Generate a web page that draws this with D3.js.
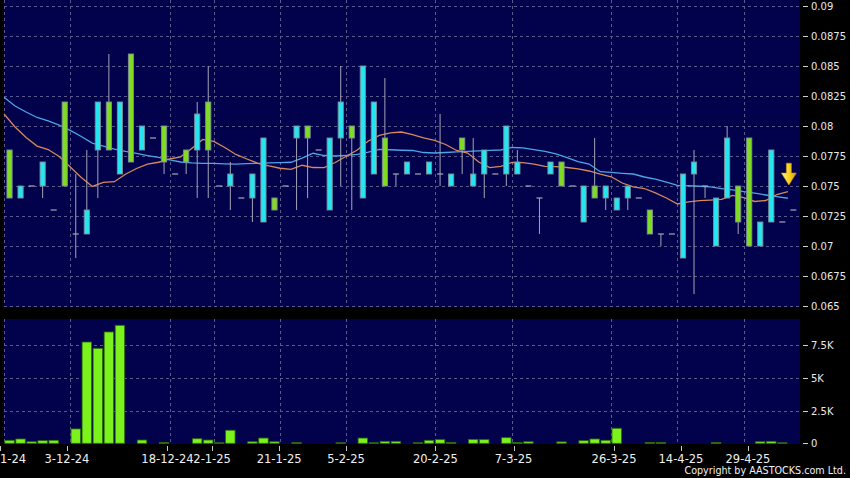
<!DOCTYPE html>
<html><head><meta charset="utf-8">
<script src="https://cdn.jsdelivr.net/npm/d3@7"></script>
<style>html,body{margin:0;padding:0;background:#000;} svg{display:block;}</style>
</head><body>
<svg id="c" width="850" height="478"></svg>
<script>
// ---- data ----
const opens  = [.074,.075,.075,.077,.073,.075,.071,.073,.082,.078,.082,.077,.080,.079,.077,.076,.077,.081,.078,.075,.076,.074,.076,.079,.073,.075,.080,.079,.078,.079,.082,.079,.085,.082,.075,.076,.077,.076,.077,.076,.076,.078,.076,.078,.076,.080,.077,.075,.074,.077,.075,.075,.075,.074,.075,.074,.075,.074,.071,.071,.071,.076,.077,.075,.074,.079,.072,.070,.072,.078,.072,.073];
const highs  = [.078,.075,.075,.077,.073,.082,.076,.078,.082,.086,.082,.086,.080,.079,.080,.076,.078,.082,.085,.075,.077,.074,.076,.079,.074,.075,.080,.080,.078,.079,.085,.080,.085,.082,.084,.076,.077,.076,.077,.081,.076,.079,.079,.078,.076,.080,.078,.075,.074,.077,.077,.075,.075,.079,.075,.074,.075,.074,.073,.071,.071,.076,.078,.075,.074,.080,.075,.079,.072,.078,.072,.073];
const lows   = [.074,.074,.075,.074,.073,.075,.069,.071,.074,.078,.076,.077,.078,.079,.076,.076,.076,.074,.074,.075,.073,.074,.072,.072,.073,.075,.073,.074,.078,.073,.075,.073,.074,.076,.075,.075,.076,.076,.076,.075,.075,.076,.075,.074,.076,.075,.076,.075,.071,.076,.075,.075,.072,.074,.073,.073,.073,.074,.071,.070,.071,.069,.066,.074,.070,.074,.071,.070,.070,.072,.072,.073];
const closes = [.078,.074,.075,.075,.073,.082,.071,.071,.078,.082,.076,.086,.078,.079,.080,.076,.078,.078,.082,.075,.075,.074,.074,.072,.074,.075,.079,.080,.078,.073,.079,.080,.074,.076,.079,.076,.076,.076,.076,.076,.075,.079,.075,.076,.076,.076,.076,.075,.074,.076,.077,.075,.072,.075,.074,.073,.074,.074,.073,.071,.071,.069,.076,.075,.070,.074,.075,.079,.070,.072,.072,.073];
const volumes = [230,330,120,200,230,0,1100,7750,7270,8520,9030,0,250,0,60,0,0,350,250,40,1000,0,120,400,120,0,50,0,0,0,40,0,400,40,150,150,0,40,230,280,60,0,300,280,0,430,60,120,0,0,110,0,200,330,230,1150,0,0,60,60,0,0,0,0,60,0,0,0,120,150,40,0];
const maShort = [.0810,.07992,.07904,.07833,.07804,.07746,.07658,.07571,.07496,.07531,.07536,.07598,.07646,.07683,.07698,.07725,.07743,.07813,.07888,.07871,.07821,.07763,.07725,.07689,.07667,.07648,.07639,.07673,.07654,.07653,.07696,.07748,.07800,.07875,.07921,.07942,.07950,.07929,.07902,.07880,.07846,.07796,.07775,.07700,.07653,.07663,.07696,.07695,.07683,.07663,.07661,.07654,.07642,.07625,.07598,.07577,.07525,.07492,.07479,.07442,.07400,.07350,.07367,.07378,.07383,.07389,.07421,.07404,.07371,.07379,.07429,.07453];
const maLong = [.08239,.08167,.08117,.08071,.08042,.08008,.07963,.07913,.07858,.07833,.07808,.07788,.07771,.07754,.07738,.07717,.07700,.07692,.07689,.07688,.07685,.07683,.07686,.07689,.07692,.07694,.07698,.07733,.07773,.07754,.07750,.07756,.07763,.07783,.07806,.07802,.07798,.07796,.07779,.07775,.07779,.07785,.07789,.07793,.07797,.07800,.07821,.07817,.07804,.07788,.07767,.07736,.07704,.07683,.07619,.07613,.07606,.07600,.07575,.07558,.07533,.07506,.07502,.07498,.07492,.07479,.07467,.07453,.07440,.07425,.07411,.07398];
const priceTicks = [0.065,0.0675,0.07,0.0725,0.075,0.0775,0.08,0.0825,0.085,0.0875,0.09];
const priceTickLabels = ["0.065","0.0675","0.07","0.0725","0.075","0.0775","0.08","0.0825","0.085","0.0875","0.09"];
const volTicks = [0,2500,5000,7500];
const volTickLabels = ["0","2.5K","5K","7.5K"];
const dateLabels = ["20-11-24","3-12-24","18-12-24","2-1-25","21-1-25","5-2-25","20-2-25","7-3-25","26-3-25","14-4-25","29-4-25"];
const dateIndex = [0,6,15,19,25,31,39,46,55,61,67];

// ---- scales ----
const svg = d3.select("#c");
const n = closes.length;
const x = d3.scaleBand().domain(d3.range(n)).range([4, 798.9]).padding(0);
const bw = x.bandwidth();
const xAxisScale = d3.scaleLinear().domain([0, n]).range([0, 803.8]);
const y = d3.scaleLinear().domain([0.065, 0.09]).range([306, 6]);
const yv = d3.scaleLinear().domain([0, 7500]).range([443.3, 345.3]);

const navy = "#02024c";
const gridCol = "#5a5a8c";
// panels
svg.append("rect").attr("x",4).attr("y",0).attr("width",796).attr("height",307).attr("fill",navy);
svg.append("rect").attr("x",4).attr("y",319).attr("width",796).attr("height",125).attr("fill",navy);

// gridlines
const g = svg.append("g").attr("stroke",gridCol).attr("stroke-width",1).attr("stroke-dasharray","3,3").attr("fill","none");
priceTicks.forEach(v=>{ const yy=Math.round(y(v))+0.5; g.append("line").attr("x1",4).attr("x2",800).attr("y1",yy).attr("y2",yy); });
volTicks.slice(1).forEach(v=>{ const yy=Math.round(yv(v))+0.5; g.append("line").attr("x1",4).attr("x2",800).attr("y1",yy).attr("y2",yy); });
dateIndex.forEach(i=>{ const xx=Math.round(x(i))+0.5; g.append("line").attr("x1",xx).attr("x2",xx).attr("y1",0).attr("y2",307); g.append("line").attr("x1",xx).attr("x2",xx).attr("y1",319).attr("y2",444); });

// MA lines
const lineGen = d3.line().x((d,i)=>x(i)).y(d=>y(d));
svg.append("path").datum(maLong).attr("d",lineGen).attr("fill","none").attr("stroke","#4aa6e6").attr("stroke-width",1.3);
svg.append("path").datum(maShort).attr("d",lineGen).attr("fill","none").attr("stroke","#d6895a").attr("stroke-width",1.3);

// candles
const cg = svg.append("g");
const upCol = "#80dc22", downCol = "#26e4f0";
d3.range(n).forEach(i=>{
  const cx = x(i) + bw/2;
  const o=opens[i], c=closes[i], h=highs[i], l=lows[i];
  if (h > Math.max(o,c) || l < Math.min(o,c)) {
    cg.append("line").attr("x1",cx).attr("x2",cx).attr("y1",y(h)).attr("y2",y(l)).attr("stroke","#a4a4b4").attr("stroke-width",1);
  }
  if (o === c) {
    cg.append("line").attr("x1",cx-3).attr("x2",cx+3).attr("y1",y(c)).attr("y2",y(c)).attr("stroke","#a8a8b8").attr("stroke-width",1.2);
  } else {
    const top = y(Math.max(o,c)), bot = y(Math.min(o,c));
    cg.append("rect").attr("x",cx-2.6).attr("y",top).attr("width",5.2).attr("height",bot-top)
      .attr("fill", c > o ? upCol : downCol).attr("stroke","#7c8c98").attr("stroke-width",0.9);
  }
});

// arrow annotation near last bar
const ax = x(n-1) + 1;
const aTop = y(0.0769), aMid = y(0.07608), aTip = y(0.07508);
const grad = svg.append("defs").append("linearGradient").attr("id","ag").attr("x1",0).attr("x2",1).attr("y1",0).attr("y2",0);
grad.append("stop").attr("offset","0%").attr("stop-color","#fff38a");
grad.append("stop").attr("offset","55%").attr("stop-color","#f6d21a");
grad.append("stop").attr("offset","100%").attr("stop-color","#d89a10");
svg.append("path").attr("d",`M${ax-2.5},${aTop} L${ax+2.5},${aTop} L${ax+2.5},${aMid} L${ax+7.5},${aMid} L${ax},${aTip} L${ax-7.5},${aMid} L${ax-2.5},${aMid} Z`)
  .attr("fill","url(#ag)").attr("stroke","#c89010").attr("stroke-width",0.6);

// volume bars
svg.append("g").selectAll("rect").data(volumes).join("rect")
  .attr("x",(d,i)=>x(i)+0.8).attr("width",bw-1.6)
  .attr("y",d=>yv(d)).attr("height",d=>Math.max(0.01, yv(0)-yv(d)))
  .attr("fill","#7cf21c").attr("stroke","#2d6a08").attr("stroke-width",0.8)
  .attr("opacity",d=>d>0?1:0);

// right axes
const axG = svg.append("g").attr("font-family","DejaVu Sans, sans-serif").attr("font-size",10).attr("fill","#e8e8e8");
priceTicks.forEach((v,k)=>{
  const yy = Math.round(y(v))+0.5;
  axG.append("line").attr("x1",803).attr("x2",808).attr("y1",yy).attr("y2",yy).attr("stroke","#d0d0d0");
  axG.append("text").attr("x",811).attr("y",yy).attr("dy","0.36em").text(priceTickLabels[k]);
});
volTicks.forEach((v,k)=>{
  const yy = Math.round(yv(v))+0.5;
  axG.append("line").attr("x1",803).attr("x2",808).attr("y1",yy).attr("y2",yy).attr("stroke","#d0d0d0");
  axG.append("text").attr("x",811).attr("y",yy).attr("dy","0.36em").text(volTickLabels[k]);
});

// bottom date axis
const bG = svg.append("g").attr("font-family","DejaVu Sans, sans-serif").attr("font-size",11.5).attr("fill","#f0f0f0");
dateIndex.forEach((gi,k)=>{
  const xx = Math.round(xAxisScale(gi))+0.5;
  bG.append("line").attr("x1",xx).attr("x2",xx).attr("y1",446).attr("y2",451).attr("stroke","#c8c8c8");
  bG.append("text").attr("x",xAxisScale(gi)).attr("y",462.5).attr("text-anchor","middle").text(dateLabels[k]);
});

svg.append("text").attr("x",846).attr("y",473.5).attr("text-anchor","end")
  .attr("font-family","DejaVu Sans, sans-serif").attr("font-size",9.6).attr("fill","#f0f0f0")
  .text("Copyright by AASTOCKS.com Ltd.");
</script>
</body></html>
